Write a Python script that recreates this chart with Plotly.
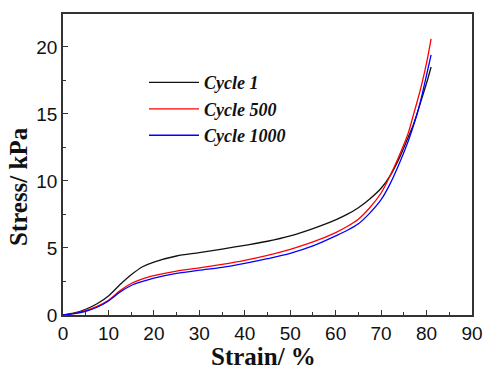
import plotly.graph_objects as go

strain = [0, 2.5, 5, 7.5, 10, 12.5, 15, 17.5, 20, 25, 30, 35, 40, 45, 50, 55, 60,
          62.5, 65, 67.5, 70, 72, 74, 76, 77, 78, 79, 80, 81]
cycle1 = [0, 0.15, 0.43, 0.84, 1.42, 2.25, 3.0, 3.6, 3.95, 4.4, 4.65, 4.92, 5.2, 5.5,
          5.9, 6.45, 7.1, 7.5, 8.0, 8.65, 9.45, 10.4, 11.7, 13.3, 14.1, 15.1, 16.2, 17.3, 18.5]
cycle500 = [0, 0.12, 0.33, 0.64, 1.1, 1.8, 2.35, 2.7, 2.93, 3.27, 3.52, 3.78, 4.08, 4.45,
            4.9, 5.45, 6.15, 6.6, 7.15, 8.0, 9.1, 10.4, 11.9, 13.6, 14.8, 16.0, 17.3, 18.8, 20.6]
cycle1000 = [0, 0.1, 0.28, 0.58, 1.05, 1.7, 2.2, 2.5, 2.75, 3.1, 3.34, 3.55, 3.85, 4.2,
             4.6, 5.15, 5.9, 6.3, 6.8, 7.6, 8.6, 9.8, 11.3, 13.0, 14.0, 15.1, 16.4, 17.9, 19.4]

series_names = ["Cycle 1", "Cycle 500", "Cycle 1000"]
x_ticks = [0, 10, 20, 30, 40, 50, 60, 70, 80, 90]
y_ticks = [0, 5, 10, 15, 20]
x_title = "Strain/ %"
y_title = "Stress/ kPa"

colors = ["#111111", "#ff0000", "#0000ff"]
title_font = dict(family="Liberation Serif, Times New Roman", size=25,
                  color="#111111", weight="bold")

fig = go.Figure()
for name, ys, c in zip(series_names, [cycle1, cycle500, cycle1000], colors):
    fig.add_trace(go.Scatter(x=strain, y=ys, mode="lines", name=name,
                             line=dict(color=c, width=1.3, shape="spline",
                                       smoothing=0.8)))

axis_common = dict(
    showline=True, linecolor="#333333", linewidth=1.5, mirror=True,
    ticks="inside", ticklen=5, tickwidth=1.3, tickcolor="#333333",
    showgrid=False, zeroline=False, automargin=False,
    tickfont=dict(family="Liberation Sans, Arial", size=19, color="#111111"),
)

fig.update_xaxes(range=[0, 90], tickvals=x_ticks,
                 minor=dict(dtick=5, ticks="inside", ticklen=3, tickcolor="#333333"),
                 **axis_common)
fig.update_yaxes(range=[0, 22.45], tickvals=y_ticks,
                 minor=dict(dtick=2.5, ticks="inside", ticklen=3, tickcolor="#333333"),
                 **axis_common)

fig.add_annotation(text=y_title, xref="paper", yref="paper",
                   x=-0.11, y=0.425, xanchor="center", yanchor="middle",
                   textangle=-90, showarrow=False, font=title_font)
fig.add_annotation(text=x_title, xref="paper", yref="paper",
                   x=0.49, y=-0.137, xanchor="center", yanchor="middle",
                   showarrow=False, font=title_font)

fig.update_layout(
    width=483, height=368,
    margin=dict(l=63, r=11, t=14, b=53),
    paper_bgcolor="white", plot_bgcolor="white",
    showlegend=True,
    legend=dict(x=0.198, y=0.833, xanchor="left", yanchor="top",
                bgcolor="rgba(0,0,0,0)", itemwidth=50,
                font=dict(family="Liberation Serif, Times New Roman", size=18,
                          color="#111111", weight="bold", style="italic")),
)

fig.write_html("out.html", config={"displayModeBar": False},
               post_script="document.body.style.margin='0';document.body.style.overflow='hidden';")
